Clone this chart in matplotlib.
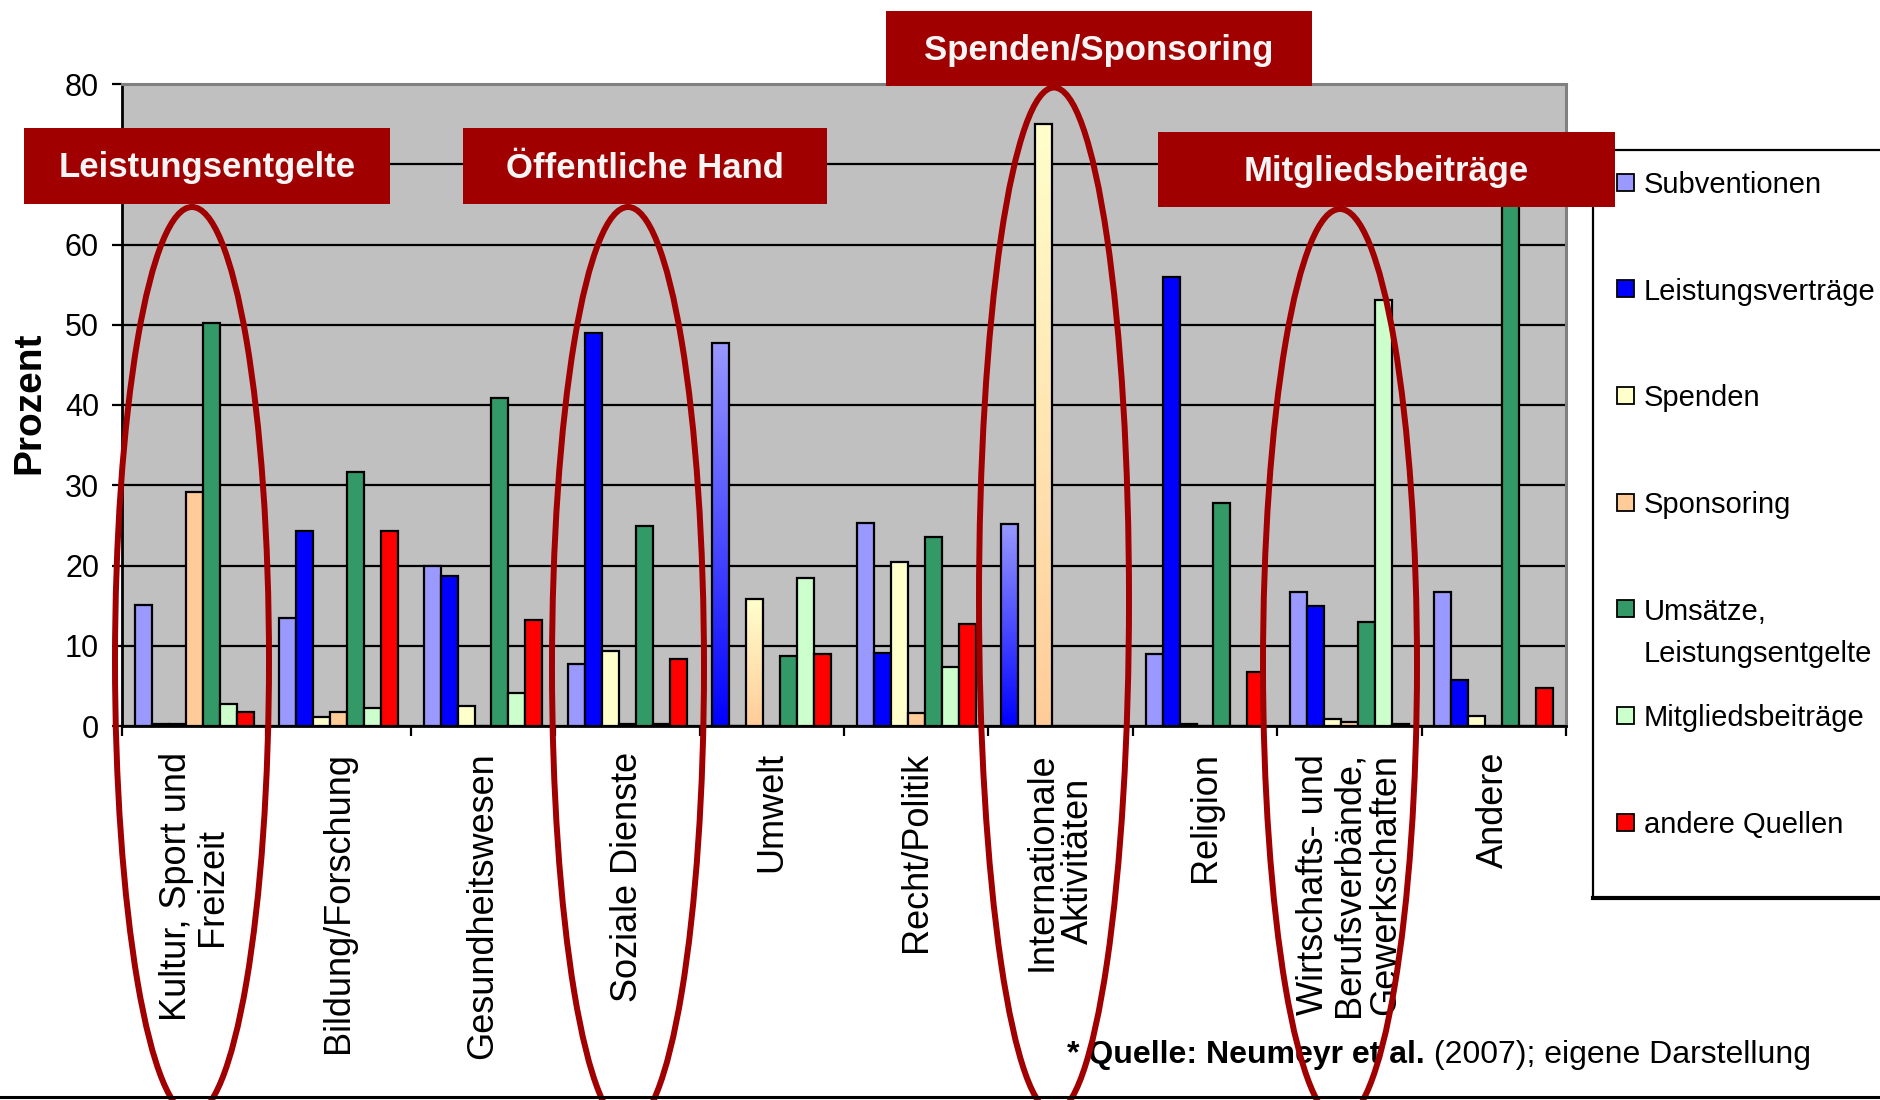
import numpy as np
import matplotlib
matplotlib.use("Agg")
import matplotlib.pyplot as plt
from matplotlib.patches import Rectangle, Ellipse
from matplotlib.colors import LinearSegmentedColormap

# Data (Prozent)
categories = ["Kultur, Sport und\nFreizeit", "Bildung/Forschung", "Gesundheitswesen",
              "Soziale Dienste", "Umwelt", "Recht/Politik", "Internationale\nAktivitäten",
              "Religion", "Wirtschafts- und\nBerufsverbände,\nGewerkschaften", "Andere"]
series_names = ["Subventionen", "Leistungsverträge", "Spenden", "Sponsoring",
                "Umsätze,\nLeistungsentgelte", "Mitgliedsbeiträge", "andere Quellen"]

subventionen = [15.1, 13.5, 20.0, 7.7, 47.7, 25.3, 25.2, 9.0, 16.7, 16.7]
leistungsvertraege = [0.2, 24.3, 18.7, 49.0, 0.0, 9.1, 0.0, 56.0, 14.9, 5.7]
spenden = [0.2, 1.1, 2.5, 9.4, 15.8, 20.4, 75.0, 0.2, 0.9, 1.2]
sponsoring = [29.1, 1.8, 0.0, 0.2, 0.0, 1.6, 0.0, 0.0, 0.5, 0.0]
umsaetze = [50.2, 31.7, 40.9, 24.9, 8.7, 23.6, 0.0, 27.8, 12.9, 68.0]
mitgliedsbeitraege = [2.8, 2.2, 4.1, 0.2, 18.4, 7.4, 0.0, 0.0, 53.1, 0.0]
andere_quellen = [1.8, 24.3, 13.2, 8.4, 9.0, 12.7, 0.0, 6.7, 0.2, 4.7]

# y tick labels; 70 sits behind the "Leistungsentgelte" box in the original
ytick_vals = [0, 10, 20, 30, 40, 50, 60, 70, 80]
ytick_labels = ["0", "10", "20", "30", "40", "50", "60", "", "80"]

series = [subventionen, leistungsvertraege, spenden, sponsoring,
          umsaetze, mitgliedsbeitraege, andere_quellen]
colors = ["#9999FF", "#0000FF", "#FFFFCC", "#FFCC99", "#339966", "#CCFFCC", "#FF0000"]

# bars that are filled with a fade (top colour -> bottom colour) in the original
fade_cats = [4, 6]
fade_series = {0: ("#9999FF", "#0000FF"), 2: ("#FFFFCC", "#FFCC99")}

# callout boxes: text, left, top, right, bottom (figure pixels)
callouts = [("Leistungsentgelte", 24, 128, 390, 204),
            ("Öffentliche Hand", 463, 128, 827, 204),
            ("Spenden/Sponsoring", 886, 11, 1312, 86),
            ("Mitgliedsbeiträge", 1158, 132, 1615, 207)]
# ellipses: centre x, centre y, width, height (figure pixels)
ellipses = [(192, 661, 154, 908), (628, 667, 152, 920),
            (1054, 600, 150, 1025), (1340, 665, 154, 912)]

RED = "#A00000"
W, H = 1880, 1100
plt.rcParams["font.family"] = "Liberation Sans"

fig = plt.figure(figsize=(W / 100, H / 100), dpi=100)
ax = fig.add_axes([122 / W, 1 - 726 / H, (1566 - 122) / W, (726 - 84) / H])
ax.set_facecolor("#C0C0C0")

n = len(series)
w = 1 / (n + 1.5)
x = np.arange(len(categories))
for j, vals in enumerate(series):
    bars = ax.bar(x + (0.75 + j) * w, vals, width=w, align="edge", color=colors[j],
                  edgecolor="black", linewidth=1.6, zorder=2)
    if j in fade_series:
        cmap = LinearSegmentedColormap.from_list("fade", [fade_series[j][1], fade_series[j][0]])
        for i in fade_cats:
            p = bars[i]
            p.set_facecolor("none")
            grad = np.linspace(0, 1, 256).reshape(-1, 1)
            im = ax.imshow(grad, extent=[p.get_x(), p.get_x() + p.get_width(), 0, p.get_height()],
                           origin="lower", aspect="auto", cmap=cmap, zorder=1.9)
            im.set_clip_path(p)

ax.set_xlim(0, len(categories))
ax.set_ylim(0, 80)
ax.set_yticks(ytick_vals)
ax.set_yticklabels(ytick_labels)
ax.set_xticks(range(len(categories) + 1))
ax.set_xticklabels([])
ax.yaxis.grid(True, color="black", linewidth=1.6)
ax.set_axisbelow(True)
ax.tick_params(axis="y", length=7.5, width=1.6, pad=9, labelsize=22)
ax.tick_params(axis="x", length=7.5, width=1.6)
for s in ["left", "bottom"]:
    ax.spines[s].set_color("black")
    ax.spines[s].set_linewidth(2)
for s in ["top", "right"]:
    ax.spines[s].set_color("#808080")
    ax.spines[s].set_linewidth(2.2)

for i, cat in enumerate(categories):
    ax.annotate(cat, xy=(i + 0.5, 0), xycoords=("data", "axes fraction"),
                xytext=(0, -26), textcoords="offset pixels", rotation=90,
                ha="center", va="top", multialignment="center", fontsize=26,
                linespacing=1.05)

fig.text(29 / W, 1 - 403 / H, "Prozent", rotation=90, ha="center", va="center",
         fontsize=28, fontweight="bold")

# overlay in figure pixels for callouts, ellipses, legend and footnote
ov = fig.add_axes([0, 0, 1, 1], zorder=10)
ov.set_xlim(0, W)
ov.set_ylim(H, 0)
ov.axis("off")
ov.patch.set_alpha(0)

# legend
ov.add_patch(Rectangle((1593, 150), 320, 748, facecolor="white", edgecolor="black",
                       linewidth=1.6, zorder=1))
ov.plot([1593, W], [898, 898], color="black", linewidth=3, zorder=1.1)
line_gap = 42
for j, name in enumerate(series_names):
    yc = 182 + j * 106.7
    ov.add_patch(Rectangle((1617, yc - 8.5), 17, 17, facecolor=colors[j],
                           edgecolor="black", linewidth=1.3, zorder=2))
    extra = name.count("\n") * line_gap
    ov.text(1644, yc + 11 + extra, name, ha="left", va="baseline", fontsize=21,
            linespacing=1.65, zorder=2)

for text, l, t, r, b in callouts:
    ov.add_patch(Rectangle((l, t), r - l, b - t, facecolor=RED, edgecolor="none", zorder=3))
    ov.text((l + r) / 2, (t + b) / 2 + 2, text, ha="center", va="center", color="#F5F5F5",
            fontsize=25, fontweight="bold", zorder=4)

for cx, cy, ew, eh in ellipses:
    ov.add_patch(Ellipse((cx, cy), ew, eh, facecolor="none", edgecolor=RED,
                         linewidth=4.3, zorder=5))

t1 = ov.text(1067, 1070, "* Quelle: Neumeyr et al.", ha="left", va="bottom",
             fontsize=23, fontweight="bold", zorder=4)
ov.annotate(" (2007); eigene Darstellung", xy=(1, 0), xycoords=t1, ha="left", va="bottom",
            fontsize=23, zorder=4)

ov.axhline(1097, color="black", linewidth=2.2, zorder=6)

fig.savefig("out.png", dpi=100)
